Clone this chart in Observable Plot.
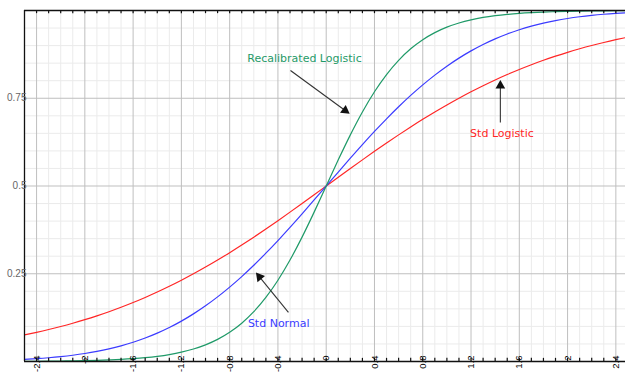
<!DOCTYPE html>
<html><head><meta charset="utf-8">
<script src="https://cdn.jsdelivr.net/npm/d3@7"></script>
<script src="https://cdn.jsdelivr.net/npm/@observablehq/plot@0.6"></script>
<style>html,body{margin:0;padding:0;background:#fff;} svg{display:block;}</style>
</head><body><div id="chart"></div>
<script>
const xs = [-2.5,-2.4,-2.3,-2.2,-2.1,-2.0,-1.9,-1.8,-1.7,-1.6,-1.5,-1.4,-1.3,-1.2,-1.1,-1.0,-0.9,-0.8,-0.7,-0.6,-0.5,-0.4,-0.3,-0.2,-0.1,0,
  0.1,0.2,0.3,0.4,0.5,0.6,0.7,0.8,0.9,1.0,1.1,1.2,1.3,1.4,1.5,1.6,1.7,1.8,1.9,2.0,2.1,2.2,2.3,2.4,2.5];
const stdLogistic = [0.07586,0.08318,0.09113,0.09975,0.10910,0.11920,0.13011,0.14185,0.15447,0.16798,0.18243,0.19782,0.21417,0.23148,0.24974,0.26894,0.28905,0.31003,0.33181,0.35434,0.37754,0.40131,0.42556,0.45017,0.47502,0.5,
  0.52498,0.54983,0.57444,0.59869,0.62246,0.64566,0.66819,0.68997,0.71095,0.73106,0.75026,0.76852,0.78583,0.80218,0.81757,0.83202,0.84553,0.85815,0.86989,0.88080,0.89090,0.90025,0.90887,0.91682,0.92414];
const stdNormal = [0.00621,0.00820,0.01072,0.01390,0.01786,0.02275,0.02872,0.03593,0.04457,0.05480,0.06681,0.08076,0.09680,0.11507,0.13567,0.15866,0.18406,0.21186,0.24196,0.27425,0.30854,0.34458,0.38209,0.42074,0.46017,0.5,
  0.53983,0.57926,0.61791,0.65542,0.69146,0.72575,0.75804,0.78814,0.81594,0.84134,0.86433,0.88493,0.90320,0.91924,0.93319,0.94520,0.95543,0.96407,0.97128,0.97725,0.98214,0.98610,0.98928,0.99180,0.99379];
const recalLogistic = [0.00055,0.00075,0.00101,0.00136,0.00183,0.00247,0.00334,0.00450,0.00606,0.00816,0.01099,0.01478,0.01984,0.02660,0.03557,0.04743,0.06297,0.08318,0.10910,0.14185,0.18243,0.23148,0.28905,0.35434,0.42556,0.5,
  0.57444,0.64566,0.71095,0.76852,0.81757,0.85815,0.89090,0.91682,0.93703,0.95257,0.96443,0.97340,0.98016,0.98522,0.98901,0.99184,0.99394,0.99550,0.99666,0.99753,0.99817,0.99864,0.99899,0.99925,0.99945];

const xTickValues = [-2.4,-2,-1.6,-1.2,-0.8,-0.4,0,0.4,0.8,1.2,1.6,2,2.4];
const xTickLabels = ["-2.4","-2","-1.6","-1.2","-0.8","-0.4","0","0.4","0.8","1.2","1.6","2","2.4"];
const yTickValues = [0.25,0.5,0.75];
const yTickLabels = ["0.25","0.5","0.75"];

const seriesNames = ["Std Logistic","Std Normal","Recalibrated Logistic"];
const seriesColors = ["#ff2626","#3b3bff","#1f9a68"];

const labelX = [1.456,-0.394,-0.18];
const labelY = [0.650,0.108,0.863];
const arrowX1 = [1.443,-0.313,-0.296];
const arrowY1 = [0.681,0.140,0.829];
const arrowX2 = [1.443,-0.553,0.157];
const arrowY2 = [0.786,0.241,0.715];
const arrowAngle = [0,-39,126];

const rows = [];
xs.forEach((x,i)=>{
  rows.push({x, y: stdLogistic[i], s: seriesNames[0]});
  rows.push({x, y: stdNormal[i], s: seriesNames[1]});
  rows.push({x, y: recalLogistic[i], s: seriesNames[2]});
});
const notes = seriesNames.map((s,i)=>({s, lx: labelX[i], ly: labelY[i], x1: arrowX1[i], y1: arrowY1[i], x2: arrowX2[i], y2: arrowY2[i], a: arrowAngle[i], c: seriesColors[i]}));

const minorX = d3.range(-24, 25).map(d => d/10).filter(d => !xTickValues.some(t => Math.abs(t-d) < 1e-9));
const allX = d3.range(-24, 25).map(d => d/10);
const minorY = d3.range(1, 20).map(d => d/20).filter(d => ![0.25,0.5,0.75].some(t => Math.abs(t-d) < 1e-9));
const font = "'Liberation Sans', Arial, sans-serif";

const chart = Plot.plot({
  width: 625, height: 372,
  marginLeft: 24, marginRight: 0, marginTop: 10, marginBottom: 11,
  x: {domain: [-2.5, 2.48], axis: null},
  y: {domain: [0, 1], axis: null},
  style: {background: "#fff", fontFamily: font},
  marks: [
    Plot.ruleX(minorX, {stroke: "#ebebeb", strokeWidth: 1}),
    Plot.ruleY(minorY, {stroke: "#ebebeb", strokeWidth: 1}),
    Plot.ruleX(xTickValues, {stroke: "#bfbfbf", strokeWidth: 1}),
    Plot.ruleY([0.25,0.5,0.75], {stroke: "#bfbfbf", strokeWidth: 1}),
    Plot.line(rows, {x: "x", y: "y", z: "s", stroke: d => seriesColors[seriesNames.indexOf(d.s)], strokeWidth: 1.2, curve: "monotone-x", clip: true}),
    Plot.ruleY([0], {stroke: "#111", strokeWidth: 1.3}),
    Plot.ruleY([1], {stroke: "#111", strokeWidth: 1.3}),
    Plot.ruleX([-2.5], {stroke: "#111", strokeWidth: 1.3}),
    Plot.ruleX(allX, {y1: 0, y2: 0.009, stroke: "#111", strokeWidth: 1.2}),
    Plot.ruleX(allX, {y1: 1, y2: 0.991, stroke: "#111", strokeWidth: 1.2}),
    Plot.text(xTickValues, {x: d => d, y: 0, text: (d,i) => xTickLabels[i], rotate: -90, textAnchor: "end", dy: -6, fontSize: 9.5, fill: "#000"}),
    Plot.text(yTickValues, {x: -2.5, y: d => d, text: (d,i) => yTickLabels[i], textAnchor: "end", dx: 2, fontSize: 10, fill: "#666"}),
    Plot.link(notes, {x1: "x1", y1: "y1", x2: "x2", y2: "y2", stroke: "#333", strokeWidth: 1.1}),
    Plot.dot(notes, {x: "x2", y: "y2", symbol: "triangle", r: 3.6, fill: "#111", stroke: "none", rotate: "a"}),
    Plot.text(notes, {x: "lx", y: "ly", text: "s", fill: "c", fontSize: 11, fontFamily: "'DejaVu Sans', sans-serif"})
  ]
});
document.getElementById("chart").appendChild(chart);
</script>
</body></html>
